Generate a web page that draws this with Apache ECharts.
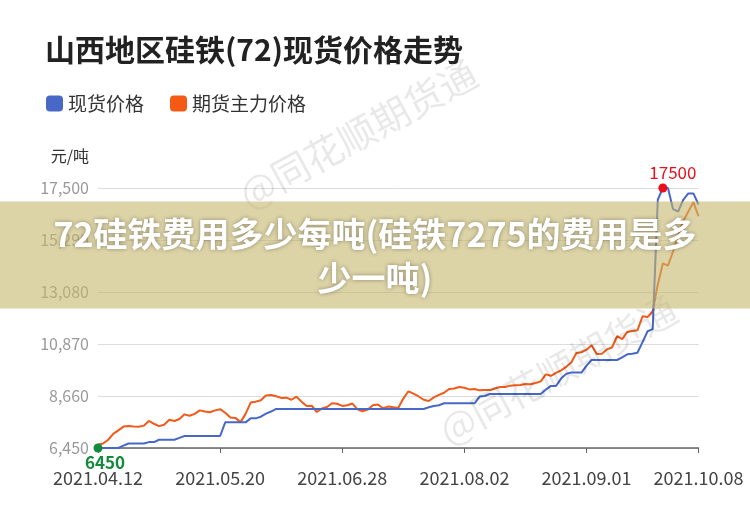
<!DOCTYPE html>
<html>
<head>
<meta charset="utf-8">
<script src="https://cdn.jsdelivr.net/npm/echarts@6/dist/echarts.min.js"></script>
<style>
html,body{margin:0;padding:0;background:#fff;}
#chart{width:750px;height:510px;}
</style>
</head>
<body>
<div id="chart"></div>
<script>
var titleText = '山西地区硅铁(72)现货价格走势';
var bannerText = '72硅铁费用多少每吨(硅铁7275的费用是多少一吨)';
var watermarkText = '@同花顺期货通';
var seriesNames = ['现货价格', '期货主力价格'];
var yUnit = '元/吨';
var yMin = 6450, yMax = 17500, yStep = 2210;

var dates = [
'2021.04.12','2021.04.13','2021.04.14','2021.04.15','2021.04.16','2021.04.19','2021.04.20','2021.04.21','2021.04.22','2021.04.23',
'2021.04.26','2021.04.27','2021.04.28','2021.04.29','2021.04.30','2021.05.06','2021.05.10','2021.05.11','2021.05.12','2021.05.13',
'2021.05.14','2021.05.17','2021.05.18','2021.05.19','2021.05.20','2021.05.21','2021.05.24','2021.05.25','2021.05.26','2021.05.27',
'2021.05.28','2021.05.31','2021.06.01','2021.06.02','2021.06.03','2021.06.04','2021.06.07','2021.06.08','2021.06.09','2021.06.10',
'2021.06.11','2021.06.15','2021.06.16','2021.06.17','2021.06.18','2021.06.22','2021.06.24','2021.06.25','2021.06.28','2021.06.29',
'2021.06.30','2021.07.01','2021.07.02','2021.07.05','2021.07.06','2021.07.07','2021.07.08','2021.07.09','2021.07.12','2021.07.13',
'2021.07.14','2021.07.15','2021.07.16','2021.07.19','2021.07.20','2021.07.21','2021.07.22','2021.07.23','2021.07.26','2021.07.27',
'2021.07.28','2021.07.29','2021.08.02','2021.08.03','2021.08.04','2021.08.05','2021.08.06','2021.08.09','2021.08.10','2021.08.11',
'2021.08.12','2021.08.13','2021.08.16','2021.08.17','2021.08.18','2021.08.19','2021.08.20','2021.08.21','2021.08.23','2021.08.24',
'2021.08.25','2021.08.26','2021.08.27','2021.08.28','2021.08.30','2021.08.31','2021.09.01','2021.09.02','2021.09.03','2021.09.06',
'2021.09.07','2021.09.08','2021.09.09','2021.09.10','2021.09.13','2021.09.14','2021.09.15','2021.09.16','2021.09.17','2021.09.18',
'2021.09.22','2021.09.23','2021.09.24','2021.09.26','2021.09.27','2021.09.28','2021.09.29','2021.09.30','2021.10.08'
];

var spotPrice = [
6450,6450,6450,6450,6450,6550,6640,6640,6640,6640,
6700,6700,6800,6800,6800,6800,6880,6960,6960,6960,
6960,6960,6960,6960,6960,7540,7540,7540,7540,7540,
7710,7710,7780,7910,8000,8110,8110,8110,8110,8110,
8110,8110,8110,8110,8110,8110,8110,8110,8110,8110,
8110,8110,8110,8110,8110,8110,8110,8110,8110,8110,
8110,8110,8110,8110,8110,8180,8235,8265,8350,8350,
8350,8350,8350,8350,8350,8634,8662,8747,8747,8747,
8747,8747,8747,8747,8747,8747,8747,8747,8932,9088,
9088,9400,9600,9655,9655,9655,9950,10190,10190,10190,
10190,10190,10190,10300,10432,10460,10500,10950,11410,11500,
17000,17500,17500,16600,16500,17000,17270,17270,16800
];

var futuresPrice = [
6590,6640,6800,7050,7200,7360,7380,7360,7350,7400,
7600,7480,7380,7440,7650,7600,7680,7880,7820,7900,
8050,8000,7970,8050,8100,7950,7750,7730,7550,7900,
8380,8420,8480,8680,8700,8650,8580,8590,8500,8630,
8420,8230,8250,7980,8130,8190,8350,8330,8240,8265,
8340,8090,8010,8080,8270,8300,8140,8210,8180,8150,
8550,8860,8760,8640,8500,8447,8600,8710,8800,8960,
8980,9045,9010,8940,8960,8900,8920,8910,8980,9045,
9045,9100,9120,9130,9170,9160,9210,9280,9580,9520,
9640,9750,9900,10080,10490,10520,10630,10815,10440,10460,
10640,10720,11200,11080,11380,11420,11450,12050,12020,12250,
13400,14300,14200,14800,15500,16100,16500,16900,16300
];

var FONT = '"Noto Sans CJK SC", "Noto Sans", sans-serif';
var lastIdx = dates.length - 1;
function showLabel(i) { return i % 24 === 0 || i === lastIdx; }

var chart = echarts.init(document.getElementById('chart'), null, {renderer: 'canvas'});
chart.setOption({
  backgroundColor: '#ffffff',
  animation: false,
  textStyle: {fontFamily: FONT},
  title: {
    text: titleText,
    left: 40, top: 30,
    textStyle: {fontSize: 30, fontWeight: 'bold', color: '#222', fontFamily: FONT}
  },
  legend: {
    data: seriesNames,
    left: 41, top: 89,
    icon: 'roundRect',
    itemWidth: 17, itemHeight: 16, itemGap: 26,
    textStyle: {fontSize: 19, color: '#333', fontFamily: FONT}
  },
  grid: {left: 98, right: 51.5, top: 188, bottom: 62},
  xAxis: {
    type: 'category',
    data: dates,
    boundaryGap: false,
    axisLine: {lineStyle: {color: '#666', width: 1.5}},
    axisTick: {show: true, length: 5, interval: function (i) { return showLabel(i); }, lineStyle: {color: '#666'}},
    axisLabel: {interval: function (i) { return showLabel(i); }, fontSize: 18, color: '#444', margin: 21, fontFamily: FONT, showMaxLabel: true},
    splitLine: {show: false}
  },
  yAxis: {
    type: 'value',
    min: yMin, max: yMax, interval: yStep,
    name: yUnit,
    nameLocation: 'end',
    nameGap: 24,
    nameTextStyle: {fontSize: 16, color: '#333', align: 'right', padding: [0, 9, 0, 0], fontFamily: FONT},
    axisLine: {show: false},
    axisTick: {show: false},
    axisLabel: {fontSize: 16, color: '#999', margin: 9, fontFamily: FONT},
    splitLine: {lineStyle: {color: '#dcdcdc', width: 1}}
  },
  series: [
    {
      name: seriesNames[0],
      type: 'line',
      data: spotPrice,
      symbol: 'none',
      z: 3,
      itemStyle: {color: '#4868c8'},
      lineStyle: {color: '#4868c8', width: 2},
      markPoint: {
        symbol: 'circle',
        symbolSize: 9,
        data: [
          {type: 'max', itemStyle: {color: '#e8101c'},
           label: {show: true, position: 'top', distance: 2, offset: [10, 0], color: '#e8101c', fontSize: 17, fontFamily: FONT, formatter: '{c}'}},
          {type: 'min', itemStyle: {color: '#138a3c'},
           label: {show: true, position: 'bottom', distance: 2, offset: [7, 0], color: '#138a3c', fontSize: 17, fontWeight: 'bold', fontFamily: FONT, formatter: '{c}'}}
        ]
      }
    },
    {
      name: seriesNames[1],
      type: 'line',
      data: futuresPrice,
      symbol: 'none',
      z: 2,
      itemStyle: {color: '#f55a14'},
      lineStyle: {color: '#f05a1a', width: 2}
    }
  ],
  graphic: [
    {type: 'text', x: 358, y: 134, rotation: 0.5, z: 50, silent: true,
     style: {text: watermarkText, fontSize: 38, fontFamily: FONT, fill: 'rgba(0,0,0,0.09)', align: 'center', verticalAlign: 'middle'}},
    {type: 'text', x: 558, y: 370, rotation: 0.5, z: 50, silent: true,
     style: {text: watermarkText, fontSize: 38, fontFamily: FONT, fill: 'rgba(0,0,0,0.09)', align: 'center', verticalAlign: 'middle'}},
    {type: 'rect', shape: {x: 0, y: 201.5, width: 750, height: 107}, z: 100, silent: true,
     style: {fill: 'rgba(197,182,107,0.6)'}},
    {type: 'text', x: 375, y: 256.5, z: 101, silent: true,
     style: {text: bannerText, width: 660, overflow: 'break', fontSize: 34, fontWeight: 'bold', fontFamily: FONT,
             lineHeight: 44, fill: '#ffffff', align: 'center', verticalAlign: 'middle',
             textShadowColor: 'rgba(0,0,0,0.35)', textShadowBlur: 4}}
  ]
});
</script>
</body>
</html>
